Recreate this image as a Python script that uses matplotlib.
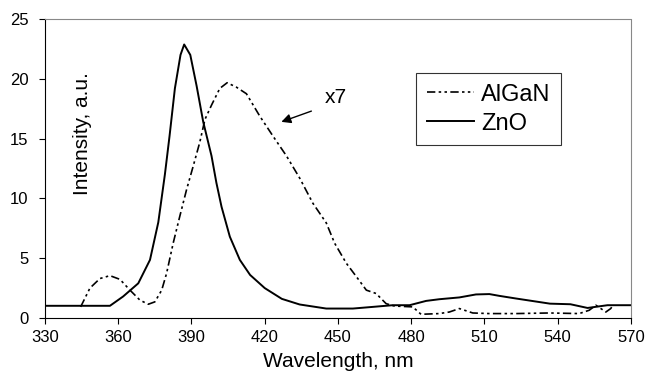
import matplotlib
matplotlib.use('Agg')
import matplotlib.pyplot as plt
import numpy as np

plt.rcParams['font.family'] = ['Liberation Sans', 'DejaVu Sans']

# ZnO spectrum (solid) #
zno_x = [330, 356.6, 362, 368.2, 373, 376.4, 379.1, 381, 383.2, 385.5, 387.0,
         389.5, 392.1, 394.8, 398.2, 400.2, 402.3, 405.7, 409.8, 414,
         420, 427, 434.3, 445.2, 456.1, 464.3, 472.4, 479.3, 486.1, 491.5,
         499.7, 506.5, 512, 516.1, 522.9, 536.8, 545.2, 552.2, 560.4, 570]
zno_y = [1.02, 1.02, 1.8, 2.9, 4.86, 8.0, 12.0, 15.2, 19.2, 22.0, 22.87,
         22.0, 19.4, 16.4, 13.55, 11.3, 9.3, 6.8, 4.86, 3.6,
         2.5, 1.6, 1.13, 0.79, 0.79, 0.93, 1.07, 1.07, 1.43, 1.57,
         1.72, 1.97, 2.0, 1.85, 1.63, 1.2, 1.15, 0.84, 1.07, 1.07]

# AlGaN spectrum x7 (dash-dot) #
algan_x = [344.6, 348.4, 352.5, 356.6, 360.7, 364.8, 368.9, 372.3, 375, 377.8,
           379.8, 382.5, 385.2, 388, 390.7, 393.4, 395.5, 398.2, 401.6,
           404.6, 408.4, 412.5, 417.9, 423.4, 428.9, 434.3, 439.7, 445.2,
           448.6, 453.4, 458.1, 461.6, 465.6, 469.7, 473.1, 480.6, 484,
           491.5, 495.6, 499.7, 505.2, 512, 522.9, 536.5, 548.8, 552.9,
           555.6, 558.3, 559.7, 561.7, 562.6]
algan_y = [0.93, 2.5, 3.3, 3.54, 3.23, 2.33, 1.49, 1.15, 1.35, 2.33,
           3.74, 6.26, 8.5, 10.75, 12.7, 14.7, 16.6, 17.8, 19.2,
           19.67, 19.3, 18.75, 16.9, 15.2, 13.55, 11.7, 9.6, 7.95,
           6.26, 4.58, 3.3, 2.33, 2.05, 1.2, 1.0, 0.93, 0.31,
           0.37, 0.5, 0.79, 0.42, 0.37, 0.37, 0.42, 0.37, 0.65,
           1.07, 0.7, 0.5, 0.79, 1.07]

xticks = [330, 360, 390, 420, 450, 480, 510, 540, 570]
yticks = [0, 5, 10, 15, 20, 25]

W, H = 647, 380
fig = plt.figure(figsize=(W / 100, H / 100), dpi=100)
ax = fig.add_axes([45 / W, (H - 318) / H, (631 - 45) / W, (318 - 19) / H])

ax.plot(algan_x, algan_y, color='black', lw=1.2, dashes=[5, 2, 1.5, 2, 1.5, 2],
        label='AlGaN')
ax.plot(zno_x, zno_y, color='black', lw=1.4, label='ZnO')

ax.set_xlim(330, 570)
ax.set_ylim(0, 25)
ax.set_xticks(xticks)
ax.set_yticks(yticks)
ax.tick_params(axis='both', direction='out', length=4, width=0.8,
               labelsize=12, colors='black')
ax.tick_params(axis='y', pad=8)
ax.tick_params(axis='x', pad=5)

# spines: solid left/bottom, dotted grey top/right #
for s in ['top', 'right']:
    ax.spines[s].set_color('#888888')
    ax.spines[s].set_linestyle((0, (1, 1)))
    ax.spines[s].set_linewidth(0.8)
for s in ['left', 'bottom']:
    ax.spines[s].set_color('black')
    ax.spines[s].set_linewidth(0.8)

ax.set_xlabel('Wavelength, nm', fontsize=15, labelpad=5)
fig.text(83 / W, 1 - 134 / H, 'Intensity, a.u.', rotation=90, fontsize=15,
         ha='center', va='center')

leg = ax.legend(loc='upper left',
                bbox_to_anchor=((416 - 45) / (631 - 45), (318 - 73) / (318 - 19)),
                borderaxespad=0, fontsize=17, frameon=True, fancybox=False,
                handlelength=2.0, handletextpad=0.3, borderpad=0.45,
                labelspacing=0.3)
leg.get_frame().set_edgecolor('black')
leg.get_frame().set_linewidth(0.8)

# x7 label with arrow #
ax.text(444.5, 18.4, 'x7', fontsize=15, ha='left', va='center')
ax.annotate('', xy=(426.8, 16.4), xytext=(439.1, 17.3),
            arrowprops=dict(arrowstyle='-|>', color='black', lw=1.0,
                            mutation_scale=14, shrinkA=0, shrinkB=0))

fig.savefig('out.png', dpi=100)
